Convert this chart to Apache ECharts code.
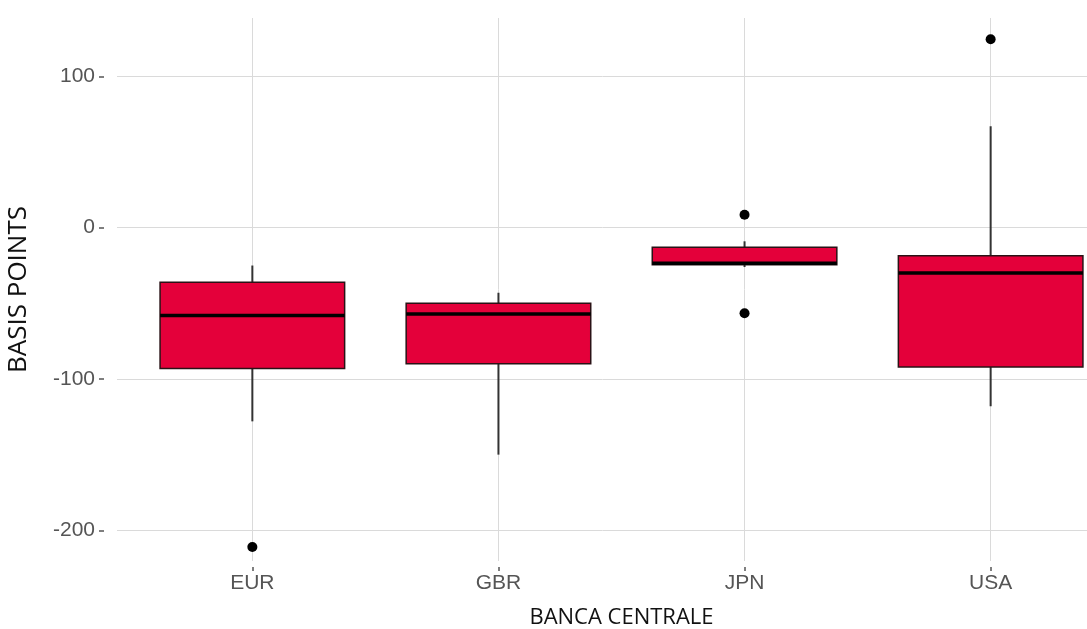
<!DOCTYPE html>
<html>
<head>
<meta charset="utf-8">
<script src="https://cdn.jsdelivr.net/npm/echarts@6/dist/echarts.min.js"></script>
<style>
  html, body { margin: 0; padding: 0; background: #fff; }
  #main { width: 1087px; height: 629px; }
</style>
</head>
<body>
<div id="main"></div>
<script>
// Dati
let categories = ["EUR", "GBR", "JPN", "USA"];
let whiskerLow = [-128, -150, -26, -118];
let q1 = [-93, -90, -24.5, -92];
let median = [-58, -57, -23.5, -30];
let q3 = [-36, -50, -13, -18.5];
let whiskerHigh = [-25, -43, -9, 67];
let outlierCat = ["EUR", "JPN", "JPN", "USA"];
let outlierVal = [-211, 8.5, -56.5, 124.5];
let yTicks = [-200, -100, 0, 100];

// asse x numerico: categoria i -> posizione i + 1
let catPos = categories.map((c, i) => i + 1);
let boxData = categories.map((c, i) => [
  i + 1, whiskerLow[i], q1[i], median[i], q3[i], whiskerHigh[i],
]);
let outlierData = outlierCat.map((c, i) => [categories.indexOf(c) + 1, outlierVal[i]]);

let colors = {
  fill: "#E4003A",
  border: "#2a1216",
  whisker: "#333333",
  grid: "#dadada",
  label: "#555555",
  title: "#111111",
};

let myChart = echarts.init(document.getElementById("main"));

let option = {
  animation: false,
  grid: {
    left: 117,
    right: -39,
    top: 18,
    bottom: 68,
    containLabel: false,
    outerBoundsMode: "none",
  },
  xAxis: {
    type: "value",
    min: 0.45,
    max: 4.55,
    offset: 6,
    name: "BANCA CENTRALE",
    nameLocation: "middle",
    nameGap: 40,
    nameTextStyle: {
      fontFamily: "Open Sans",
      fontSize: 22,
      color: colors.title,
    },
    axisLine: { show: false, onZero: false },
    axisTick: {
      show: true,
      length: 4,
      customValues: catPos,
      lineStyle: { color: colors.label, width: 1.5 },
    },
    axisLabel: {
      customValues: catPos,
      margin: 6,
      fontFamily: "Liberation Sans",
      fontSize: 21,
      color: colors.label,
      formatter: (v) => categories[Math.round(v) - 1],
    },
    splitLine: {
      show: true,
      lineStyle: { color: colors.grid, width: 1 },
    },
  },
  yAxis: {
    type: "value",
    min: -220.3,
    max: 138.6,
    offset: 13,
    name: "BASIS POINTS",
    nameLocation: "middle",
    nameGap: 72,
    nameTextStyle: {
      fontFamily: "Open Sans",
      fontSize: 26,
      color: colors.title,
    },
    axisLine: { show: false, onZero: false },
    axisTick: {
      show: true,
      length: 5,
      customValues: yTicks,
      lineStyle: { color: colors.label, width: 1.5 },
    },
    axisLabel: {
      customValues: yTicks,
      margin: 9,
      fontFamily: "Liberation Sans",
      fontSize: 21,
      color: colors.label,
    },
    splitLine: {
      show: true,
      lineStyle: { color: colors.grid, width: 1 },
    },
  },
  series: [
    {
      type: "custom",
      data: boxData,
      encode: { x: 0, y: [1, 2, 3, 4, 5] },
      renderItem: function (params, api) {
        let x = api.value(0);
        let lo = api.coord([x, api.value(1)]);
        let b1 = api.coord([x, api.value(2)]);
        let med = api.coord([x, api.value(3)]);
        let b3 = api.coord([x, api.value(4)]);
        let hi = api.coord([x, api.value(5)]);
        let half = api.size([0.75, 0])[0] / 2;
        return {
          type: "group",
          children: [
            {
              type: "line",
              shape: { x1: lo[0], y1: lo[1], x2: hi[0], y2: hi[1] },
              style: { stroke: colors.whisker, lineWidth: 2 },
            },
            {
              type: "rect",
              shape: { x: b3[0] - half, y: b3[1], width: half * 2, height: b1[1] - b3[1] },
              style: { fill: colors.fill, stroke: colors.border, lineWidth: 1.5 },
            },
            {
              type: "line",
              shape: { x1: med[0] - half, y1: med[1], x2: med[0] + half, y2: med[1] },
              style: { stroke: "#000", lineWidth: 3.5 },
            },
          ],
        };
      },
    },
    {
      type: "scatter",
      data: outlierData,
      symbol: "circle",
      symbolSize: 10,
      itemStyle: { color: "#000", opacity: 1 },
    },
  ],
};

myChart.setOption(option);
</script>
</body>
</html>
